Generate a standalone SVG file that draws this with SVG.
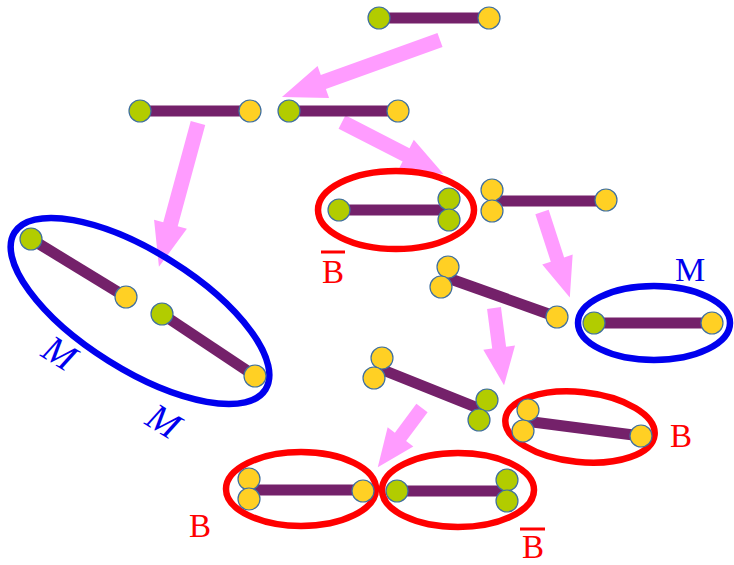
<svg xmlns="http://www.w3.org/2000/svg" width="734" height="565" viewBox="0 0 734 565">
<style>
.bar{stroke:#74216a;stroke-width:11;stroke-linecap:butt;fill:none}
.g{fill:#b2cc00;stroke:#3f6fa0;stroke-width:1.2}
.y{fill:#ffd024;stroke:#3f6fa0;stroke-width:1.2}
.arr{fill:#ff9cff}
.red{fill:none;stroke:#ff0000;stroke-width:6.5}
.blue{fill:none;stroke:#0000ee;stroke-width:6.5}
.lr{font-family:"Liberation Serif","DejaVu Serif",serif;font-size:33px;fill:#ff0000}
.lb{font-family:"Liberation Serif","DejaVu Serif",serif;font-size:34px;fill:#0000ee}
.lbi{font-family:"Liberation Serif","DejaVu Serif",serif;font-size:38px;font-style:italic;fill:#0000ee}
</style>
<rect width="734" height="565" fill="#ffffff"/>
<g id="connectors">
<path class="arr" transform="translate(440,40) rotate(160.2)" d="M0,-7.5 L124,-7.5 L124,-17 L168,0 L124,17 L124,7.5 L0,7.5 Z"/>
<path class="arr" transform="translate(198,123) rotate(105.2)" d="M0,-7.5 L105,-7.5 L105,-17 L149,0 L105,17 L105,7.5 L0,7.5 Z"/>
<path class="arr" transform="translate(342,122) rotate(27.2)" d="M0,-7.5 L72,-7.5 L72,-17 L114,0 L72,17 L72,7.5 L0,7.5 Z"/>
<path class="arr" transform="translate(542,212) rotate(72)" d="M0,-7 L50,-7 L50,-16 L90,0 L50,16 L50,7 L0,7 Z"/>
<path class="arr" transform="translate(494,308) rotate(82.6)" d="M0,-7 L40,-7 L40,-16 L78,0 L40,16 L40,7 L0,7 Z"/>
<path class="arr" transform="translate(422,408) rotate(126.7)" d="M0,-7 L36,-7 L36,-16 L74,0 L36,16 L36,7 L0,7 Z"/>
</g>
<g id="n1">
<line class="bar" x1="379" y1="18" x2="489" y2="18"/>
<circle class="g" cx="379" cy="18" r="11"/>
<circle class="y" cx="489" cy="18" r="11"/>
</g>
<g id="n2">
<line class="bar" x1="140" y1="111" x2="250" y2="111"/>
<circle class="g" cx="140" cy="111" r="11"/>
<circle class="y" cx="250" cy="111" r="11"/>
</g>
<g id="n3">
<line class="bar" x1="289" y1="111" x2="398" y2="111"/>
<circle class="g" cx="289" cy="111" r="11"/>
<circle class="y" cx="398" cy="111" r="11"/>
</g>
<g id="n4">
<ellipse class="red" cx="396" cy="210" rx="78" ry="39"/>
<line class="bar" x1="339" y1="210" x2="449" y2="210"/>
<circle class="g" cx="339" cy="210" r="11"/>
<circle class="g" cx="449" cy="199" r="11"/>
<circle class="g" cx="449" cy="220" r="11"/>
<text class="lr" x="333" y="283" text-anchor="middle">B</text>
<line x1="321" y1="252" x2="345" y2="252" stroke="#ff0000" stroke-width="3"/>
</g>
<g id="n5">
<line class="bar" x1="492" y1="201" x2="606" y2="201"/>
<circle class="y" cx="492" cy="190" r="11"/>
<circle class="y" cx="492" cy="211" r="11"/>
<circle class="y" cx="606" cy="200" r="11"/>
</g>
<g id="n6">
<ellipse class="blue" cx="140" cy="311" rx="148" ry="59" transform="rotate(32 140 311)"/>
<line class="bar" x1="31" y1="239" x2="126" y2="297"/>
<line class="bar" x1="162" y1="314" x2="255" y2="376"/>
<circle class="g" cx="31" cy="239" r="11"/>
<circle class="y" cx="126" cy="297" r="11"/>
<circle class="g" cx="162" cy="314" r="11"/>
<circle class="y" cx="255" cy="376" r="11"/>
<text class="lbi" x="0" y="0" text-anchor="middle" transform="translate(53,364) rotate(32)">M</text>
<text class="lbi" x="0" y="0" text-anchor="middle" transform="translate(157,432) rotate(32)">M</text>
</g>
<g id="n7">
<ellipse class="blue" cx="654" cy="323" rx="76" ry="37"/>
<line class="bar" x1="594" y1="323" x2="712" y2="323"/>
<circle class="g" cx="594" cy="323" r="11"/>
<circle class="y" cx="712" cy="323" r="11"/>
<text class="lb" x="690" y="281" text-anchor="middle">M</text>
</g>
<g id="n8">
<line class="bar" x1="445" y1="277" x2="557" y2="317"/>
<circle class="y" cx="448" cy="267" r="11"/>
<circle class="y" cx="441" cy="287" r="11"/>
<circle class="y" cx="557" cy="317" r="11"/>
</g>
<g id="n9">
<line class="bar" x1="378" y1="368" x2="483" y2="410"/>
<circle class="y" cx="382" cy="358" r="11"/>
<circle class="y" cx="374" cy="378" r="11"/>
<circle class="g" cx="487" cy="400" r="11"/>
<circle class="g" cx="479" cy="420" r="11"/>
</g>
<g id="n10">
<ellipse class="red" cx="580" cy="427" rx="75" ry="35" transform="rotate(6 580 427)"/>
<line class="bar" x1="525" y1="421" x2="641" y2="436"/>
<circle class="y" cx="528" cy="410" r="11"/>
<circle class="y" cx="523" cy="431" r="11"/>
<circle class="y" cx="641" cy="436" r="11"/>
<text class="lr" x="681" y="447" text-anchor="middle">B</text>
</g>
<g id="n11">
<ellipse class="red" cx="301" cy="489" rx="75" ry="37"/>
<line class="bar" x1="249" y1="490" x2="363" y2="490"/>
<circle class="y" cx="249" cy="479" r="11"/>
<circle class="y" cx="249" cy="499" r="11"/>
<circle class="y" cx="363" cy="491" r="11"/>
<text class="lr" x="200" y="537" text-anchor="middle">B</text>
</g>
<g id="n12">
<ellipse class="red" cx="458" cy="490" rx="76" ry="37"/>
<line class="bar" x1="397" y1="491" x2="507" y2="491"/>
<circle class="g" cx="397" cy="491" r="11"/>
<circle class="g" cx="507" cy="480" r="11"/>
<circle class="g" cx="507" cy="501" r="11"/>
<text class="lr" x="533" y="558" text-anchor="middle">B</text>
<line x1="520" y1="529" x2="545" y2="529" stroke="#ff0000" stroke-width="3"/>
</g>
</svg>
